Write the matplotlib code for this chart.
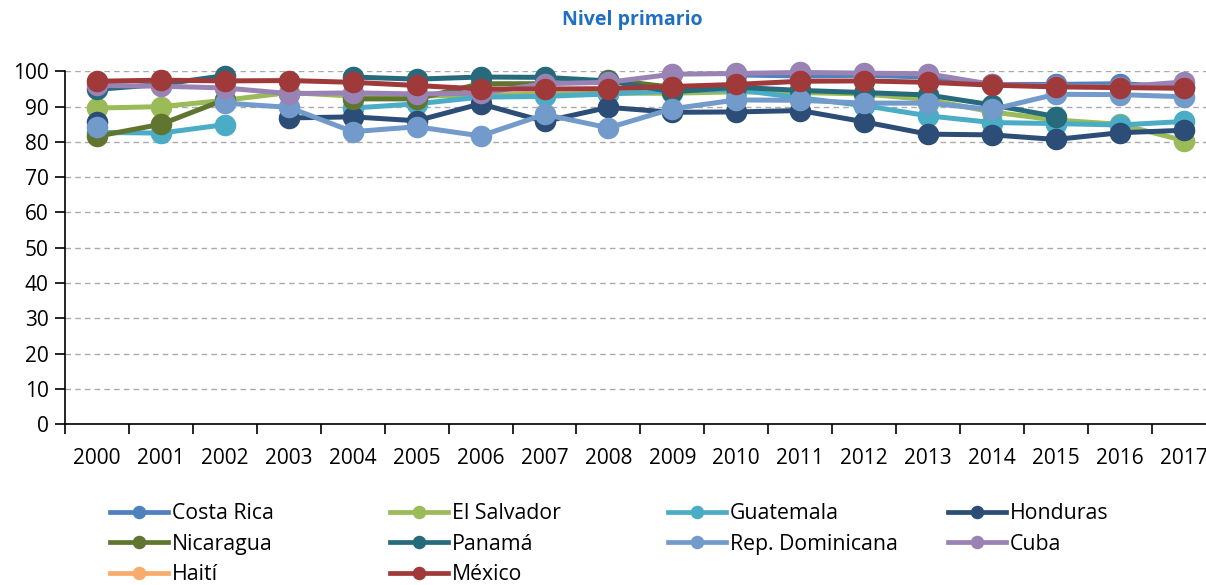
import numpy as np
import matplotlib
matplotlib.use("Agg")
import matplotlib.pyplot as plt
from matplotlib.ticker import MultipleLocator, FixedLocator

plt.rcParams['font.family'] = ['Open Sans', 'DejaVu Sans']

nan = np.nan
years = [str(y) for y in range(2000, 2018)]

costa_rica = [nan, nan, nan, nan, nan, nan, nan, nan, nan, nan,
              99.0, 98.7, 98.9, 98.4, 96.3, 96.3, 96.5, 95.6]
el_salvador = [89.6, 90.0, 91.8, 94.0, 93.0, 93.0, 93.3, 93.5, 93.8, 93.8,
               94.2, 94.0, 93.6, 92.0, 88.5, 86.2, 85.0, 80.4]
guatemala = [82.7, 82.5, 84.9, nan, 89.6, 90.8, 92.7, 92.9, 93.6, 94.5,
             94.8, 92.5, 90.3, 87.4, 85.5, 85.2, 84.8, 85.8]
honduras = [85.7, nan, nan, 86.8, 87.1, 86.0, 90.8, 85.8, 89.8, 88.4,
            88.5, 88.9, 85.7, 82.2, 82.0, 80.7, 82.6, 83.3]
nicaragua = [81.6, 85.0, 92.0, nan, 92.2, 92.2, 96.5, 96.5, 97.6, 95.5,
             96.0, nan, nan, nan, nan, nan, nan, nan]
panama = [94.9, 96.3, 98.8, nan, 98.4, 97.8, 98.4, 98.3, 97.3, 94.2,
          95.5, 94.6, 94.0, 93.3, 90.5, 87.2, nan, nan]
rep_dom = [84.3, nan, 91.0, 89.8, 82.9, 84.3, 81.7, 87.8, 84.0, 89.4,
           91.9, 91.8, 91.0, 91.0, 89.2, 93.5, 93.4, 92.8]
cuba = [96.0, 95.8, 95.3, 93.7, 93.9, 93.6, 93.8, 96.5, 96.9, 99.2,
        99.4, 99.7, 99.5, 99.3, 96.3, 95.8, 95.6, 97.0]
haiti = [nan] * 18
mexico = [97.2, 97.5, 97.3, 97.4, 96.9, 96.0, 95.0, 95.0, 95.1, 95.7,
          96.3, 97.2, 97.3, 96.9, 96.1, 95.6, 95.4, 95.2]

series = [
    ("Costa Rica", costa_rica, "#4F81BD"),
    ("El Salvador", el_salvador, "#9BBB59"),
    ("Guatemala", guatemala, "#4BACC6"),
    ("Honduras", honduras, "#2C4D75"),
    ("Nicaragua", nicaragua, "#5F7530"),
    ("Panamá", panama, "#276A7C"),
    ("Rep. Dominicana", rep_dom, "#729ACA"),
    ("Cuba", cuba, "#9983B5"),
    ("Haití", haiti, "#F9AB6B"),
    ("México", mexico, "#A03A3A"),
]

fig = plt.figure(figsize=(12.06, 5.85), dpi=100)
ax = fig.add_axes([0.054, 0.275, 0.954, 0.603])

x = np.arange(len(years))
handles = {}
for name, vals, col in series:
    h, = ax.plot(x, vals, color=col, lw=3.6, marker="o", ms=14.5,
                 label=name, clip_on=False)
    handles[name] = h

ax.set_xlim(-0.5, len(years) - 0.5)
ax.set_ylim(0, 100)
ax.yaxis.set_major_locator(MultipleLocator(10))
ax.set_xticks(x)
ax.set_xticklabels(years)
ax.xaxis.set_minor_locator(FixedLocator(np.arange(-0.5, len(years), 1.0)))
ax.tick_params(axis="x", which="major", length=0, pad=17, labelsize=15)
ax.tick_params(axis="x", which="minor", length=7, width=1.2, direction="out")
ax.tick_params(axis="y", length=7, width=1.2, labelsize=15, pad=5)

for s in ["top", "right"]:
    ax.spines[s].set_visible(False)
for s in ["left", "bottom"]:
    ax.spines[s].set_linewidth(1.2)

ax.yaxis.grid(True, linestyle=(0, (4, 3)), color="#AAAAAA", lw=1)
ax.set_axisbelow(True)

fig.text(0.524, 0.965, "Nivel primario", color="#1F70C1", fontweight="bold",
         fontsize=14, ha="center", va="center")

# legend laid out row by row, one legend per column
columns = [["Costa Rica", "Nicaragua", "Haití"],
           ["El Salvador", "Panamá", "México"],
           ["Guatemala", "Rep. Dominicana"],
           ["Honduras", "Cuba"]]
col_x = [110, 390, 668, 948]
for cx, names in zip(col_x, columns):
    leg = fig.legend([handles[n] for n in names], names, loc="upper left",
                     bbox_to_anchor=(cx / 1206, 1 - 503 / 585),
                     frameon=False, fontsize=15.3, markerscale=0.6,
                     handlelength=2.75, handletextpad=0.15,
                     labelspacing=0.45, borderpad=0, borderaxespad=0)
    for lh in leg.get_lines():
        lh.set_linewidth(3.4)

fig.savefig("out.png", dpi=100)
